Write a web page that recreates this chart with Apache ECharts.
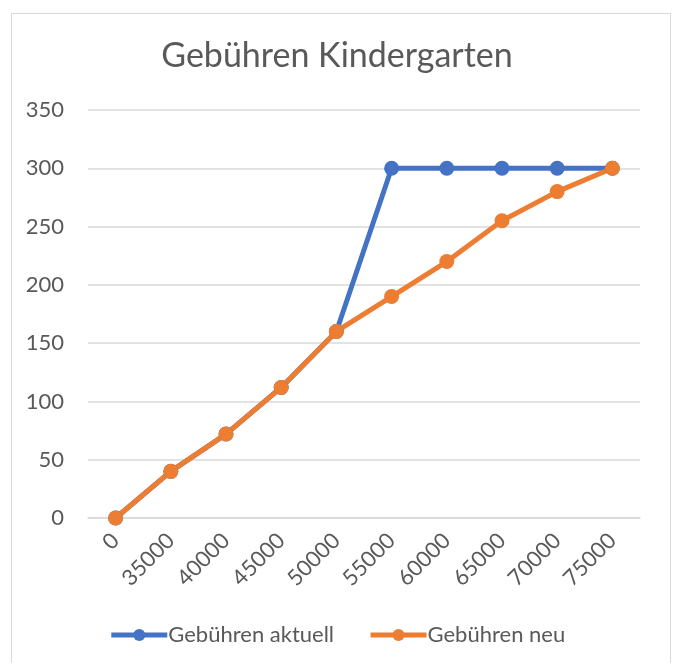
<!DOCTYPE html>
<html><head><meta charset="utf-8">
<script src="https://cdn.jsdelivr.net/npm/echarts@6/dist/echarts.min.js"></script>
<style>html,body{margin:0;padding:0;background:#fff}#c{width:674px;height:663px}</style>
</head><body><div id="c"></div>
<script>
const categories = ['0','35000','40000','45000','50000','55000','60000','65000','70000','75000'];
const aktuell = [0, 40, 72, 112, 160, 300, 300, 300, 300, 300];
const neu = [0, 40, 72, 112, 160, 190, 220, 255, 280, 300];
const yTicks = {min: 0, max: 350, interval: 50};

const chart = echarts.init(document.getElementById('c'));
const font = 'Lato, "Open Sans", sans-serif';
chart.setOption({
  animation: false,
  graphic: [{type:'rect', left:9, top:11, shape:{width:659, height:651}, style:{fill:'none', stroke:'#d9d9d9', lineWidth:1}, z:-1}],
  title: {text:'Gebühren Kindergarten', left:'center', top:34,
    textStyle:{fontFamily:font, fontSize:34, fontWeight:'normal', color:'#595959'}},
  legend: {bottom:12, left:'center', itemWidth:56, itemHeight:15, itemGap:34,
    lineStyle:{width:5},
    textStyle:{fontFamily:font, fontSize:22, color:'#595959', padding:[0,0,0,-4]}},
  grid: {left:88, right:34, top:110, bottom:145},
  xAxis: {type:'category', data:categories, boundaryGap:true,
    axisLine:{lineStyle:{color:'#d9d9d9', width:1.5}}, axisTick:{show:false},
    axisLabel:{rotate:45, fontFamily:font, fontSize:22, color:'#595959', margin:19, interval:0}},
  yAxis: {type:'value', min:yTicks.min, max:yTicks.max, interval:yTicks.interval,
    axisLine:{show:false}, axisTick:{show:false},
    splitLine:{lineStyle:{color:'#d9d9d9', width:1.5}},
    axisLabel:{fontFamily:font, fontSize:22, color:'#595959', margin:24}},
  series: [
    {name:'Gebühren aktuell', type:'line', data:aktuell, symbol:'circle', symbolSize:15,
      itemStyle:{color:'#4472C4'}, lineStyle:{width:5, color:'#4472C4'}},
    {name:'Gebühren neu', type:'line', data:neu, symbol:'circle', symbolSize:15,
      itemStyle:{color:'#ED7D31'}, lineStyle:{width:5, color:'#ED7D31'}}
  ]
});
</script></body></html>
